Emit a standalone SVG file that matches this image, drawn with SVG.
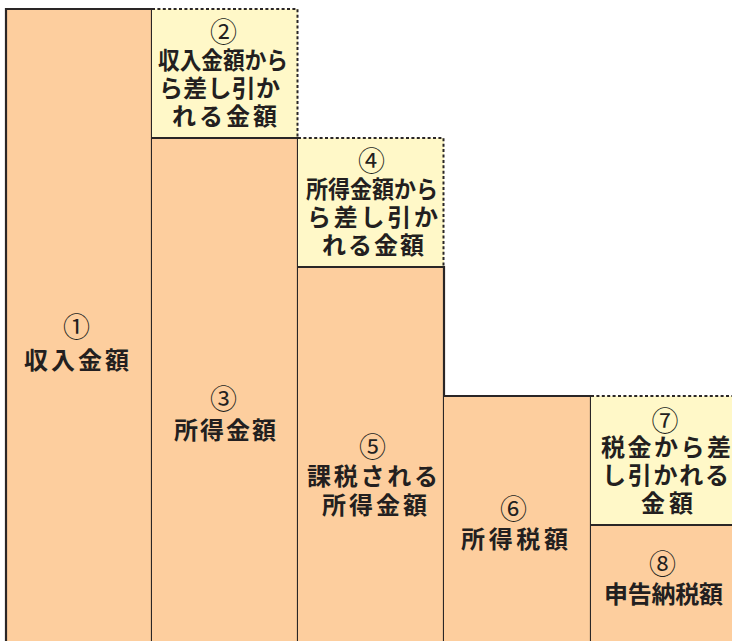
<svg xmlns="http://www.w3.org/2000/svg" width="732" height="641" viewBox="0 0 732 641">
<style>
.o{fill:#FDCE9E;stroke:none}
.y{fill:#FFF8C8;stroke:none}
.s{stroke:#2a2626;stroke-width:2.2;fill:none}
.d{stroke:#2a2626;stroke-width:2;fill:none;stroke-dasharray:3 2.4}
text{font-family:"Noto Sans CJK JP","Noto Sans",sans-serif;font-weight:700;font-size:24px;fill:#231f20;text-anchor:middle}
.n{font-weight:400;font-size:27px}
</style>
<rect width="732" height="641" fill="#ffffff"/>
<g id="node1">
<rect class="o" x="6" y="9" width="146" height="640"/>
<path class="s" d="M6,650 V9 H152 V650"/>
<text class="n" x="76.5" y="337">①</text>
<text x="76.5" y="369" textLength="105" lengthAdjust="spacing">収入金額</text>
</g>
<g id="node2">
<rect class="y" x="152" y="9" width="146" height="129"/>
<path class="d" d="M152,9 H297.5 V138"/>
<text class="n" x="223.5" y="42">②</text>
<text x="223" y="69" textLength="130" lengthAdjust="spacingAndGlyphs">収入金額から</text>
<text x="219.5" y="97" textLength="121" lengthAdjust="spacing">ら差し引か</text>
<text x="224.5" y="125" textLength="105" lengthAdjust="spacing">れる金額</text>
</g>
<g id="node3">
<rect class="o" x="152" y="138" width="146" height="510"/>
<path class="s" d="M152,138 H298 V650"/>
<text class="n" x="223.5" y="409">③</text>
<text x="225" y="439" textLength="102" lengthAdjust="spacing">所得金額</text>
</g>
<g id="node4">
<rect class="y" x="298" y="138" width="146" height="129"/>
<path class="d" d="M298,138 H443.5 V267"/>
<text class="n" x="371.5" y="170.5">④</text>
<text x="372" y="198" textLength="132" lengthAdjust="spacingAndGlyphs">所得金額から</text>
<text x="372.5" y="226" textLength="131" lengthAdjust="spacing">ら差し引か</text>
<text x="373" y="254" textLength="102" lengthAdjust="spacing">れる金額</text>
</g>
<g id="node5">
<rect class="o" x="298" y="267" width="146" height="380"/>
<path class="s" d="M298,267 H444 V650"/>
<text class="n" x="372.5" y="457">⑤</text>
<text x="372.5" y="485" textLength="131" lengthAdjust="spacing">課税される</text>
<text x="374.5" y="514" textLength="105" lengthAdjust="spacing">所得金額</text>
</g>
<g id="node6">
<rect class="o" x="444" y="396" width="147" height="250"/>
<path class="s" d="M444,396 H591 V650"/>
<text class="n" x="513.5" y="519">⑥</text>
<text x="514.5" y="548" textLength="107" lengthAdjust="spacing">所得税額</text>
</g>
<g id="node7">
<rect class="y" x="591" y="396" width="148" height="129"/>
<path class="d" d="M591,396 H740"/>
<text class="n" x="665" y="431">⑦</text>
<text x="666" y="456" textLength="130" lengthAdjust="spacing">税金から差</text>
<text x="665.5" y="484" textLength="127" lengthAdjust="spacing">し引かれる</text>
<text x="667" y="512" textLength="52" lengthAdjust="spacing">金額</text>
</g>
<g id="node8">
<rect class="o" x="591" y="525" width="148" height="120"/>
<path class="s" d="M591,525 H740"/>
<text class="n" x="662.5" y="574">⑧</text>
<text x="663.5" y="603" textLength="119" lengthAdjust="spacing">申告納税額</text>
</g>
<g id="connectors"></g>
</svg>
